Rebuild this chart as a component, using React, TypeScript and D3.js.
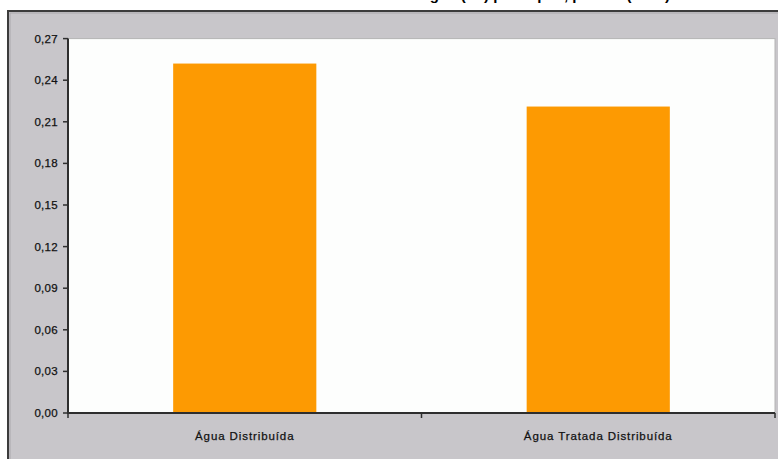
import React from "react";
import * as d3 from "d3";

const categories = ["Água Distribuída", "Água Tratada Distribuída"];
const values = [0.252, 0.221];
const yTicks = [0, 0.03, 0.06, 0.09, 0.12, 0.15, 0.18, 0.21, 0.24, 0.27];
const title = "Volume de Água (m³) per capita, por dia (2008)";

const W = 778;
const H = 459;
const plot = { left: 68, right: 775, top: 38.6, bottom: 413 };

export default function App() {
  const x = d3.scaleBand<string>().domain(categories).range([plot.left, plot.right]).padding(0);
  const y = d3.scaleLinear().domain([0, 0.27]).range([plot.bottom, plot.top]);
  const bw = x.bandwidth() * 0.405;
  const fmt = (v: number) => d3.format(".2f")(v).replace(".", ",");
  const boundaries = [plot.left, ...categories.map((c) => (x(c) as number) + x.bandwidth())];
  const font = "'Liberation Sans', Arial, sans-serif";

  return (
    <svg width={W} height={H} style={{ position: "absolute", left: 0, top: 0, display: "block" }}>
      <rect x={0} y={0} width={W} height={H} fill="#ffffff" />
      <text x={505} y={0} textAnchor="middle" fontFamily={font} fontWeight="bold" fontSize={15} fill="#000">
        {title}
      </text>
      <rect x={8} y={11} width={W + 10} height={H + 10} fill="#c8c6ca" stroke="#3c3c3c" strokeWidth={2} />
      <rect x={10} y={13} width={W + 10} height={H + 10} fill="none" stroke="#a9a8ab" strokeWidth={1} />
      <rect
        x={plot.left}
        y={plot.top}
        width={plot.right - plot.left}
        height={plot.bottom - plot.top}
        fill="#fdfefd"
        stroke="#b4b4b4"
        strokeWidth={1}
      />
      {categories.map((c, i) => {
        const cx = (x(c) as number) + x.bandwidth() / 2;
        return (
          <rect
            key={c}
            x={cx - bw / 2}
            y={y(values[i])}
            width={bw}
            height={plot.bottom - y(values[i])}
            fill="#fd9a02"
          />
        );
      })}
      <line x1={plot.left} x2={plot.left} y1={plot.top} y2={plot.bottom + 1} stroke="#2e2e2e" strokeWidth={2} />
      <line x1={plot.left - 1} x2={plot.right} y1={plot.bottom} y2={plot.bottom} stroke="#2e2e2e" strokeWidth={2} />
      {yTicks.map((t) => (
        <g key={t}>
          <line x1={plot.left - 5} x2={plot.left} y1={y(t)} y2={y(t)} stroke="#2e2e2e" strokeWidth={1.5} />
          <text
            x={plot.left - 10}
            y={y(t)}
            dy="0.35em"
            textAnchor="end"
            fontFamily={font}
            fontSize={11.5}
            letterSpacing={0.3}
            stroke="#111"
            strokeWidth={0.25}
            fill="#111"
          >
            {fmt(t)}
          </text>
        </g>
      ))}
      {boundaries.map((b, i) => (
        <line key={i} x1={b} x2={b} y1={plot.bottom} y2={plot.bottom + 5} stroke="#2e2e2e" strokeWidth={1.5} />
      ))}
      {categories.map((c) => (
        <text
          key={c}
          x={(x(c) as number) + x.bandwidth() / 2}
          y={440}
          textAnchor="middle"
          fontFamily={font}
          fontSize={11.5}
          letterSpacing={0.9}
          stroke="#111"
          strokeWidth={0.25}
          fill="#111"
        >
          {c}
        </text>
      ))}
    </svg>
  );
}
